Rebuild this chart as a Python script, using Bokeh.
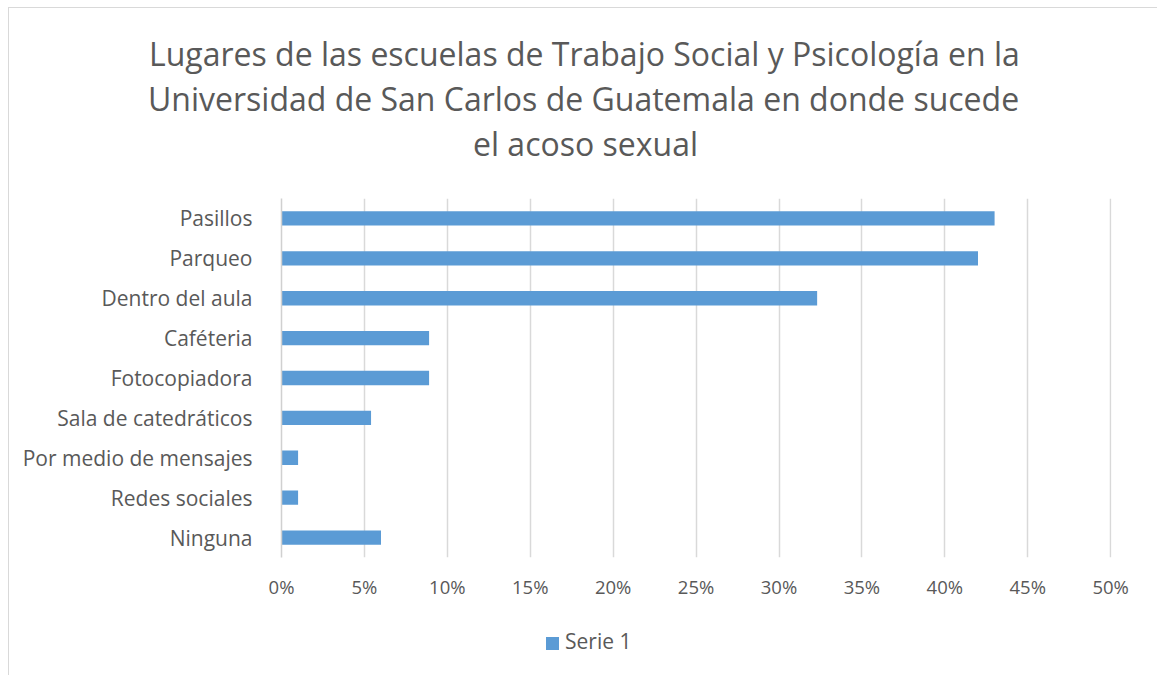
from bokeh.plotting import figure
from bokeh.models import (ColumnDataSource, FactorRange, Range1d, FixedTicker,
                          NumeralTickFormatter, Title, Div)
from bokeh.layouts import column
from bokeh.embed import file_html
from bokeh.resources import INLINE

# ---- data ----
categories = ["Pasillos", "Parqueo", "Dentro del aula", "Caféteria", "Fotocopiadora",
              "Sala de catedráticos", "Por medio de mensajes", "Redes sociales", "Ninguna"]
serie_1 = [0.430, 0.420, 0.323, 0.089, 0.089, 0.054, 0.010, 0.010, 0.060]
x_ticks = [0, 0.05, 0.10, 0.15, 0.20, 0.25, 0.30, 0.35, 0.40, 0.45, 0.50]
title_lines = ["Lugares de las escuelas de Trabajo Social y Psicología en la",
               "Universidad de San Carlos de Guatemala en donde sucede",
               "el acoso sexual"]
series_name = "Serie 1"

FONT = "Open Sans"
TXT = "#595959"
BAR = "#5B9BD5"
GRID = "#D9D9D9"
EDGE = "1px solid #D9D9D9"

src = ColumnDataSource(dict(cat=categories, val=serie_1))

p = figure(width=1149, height=613, output_backend="svg", toolbar_location=None,
           y_range=FactorRange(factors=list(reversed(categories))),
           x_range=Range1d(0, 0.5005),
           min_border_left=272, min_border_right=47, min_border_top=190,
           min_border_bottom=64)
p.margin = (7, 0, 0, 8)
p.styles = {"border-top": EDGE, "border-left": EDGE}
p.outline_line_color = None
p.background_fill_color = "white"
p.border_fill_color = "white"

r = p.hbar(y="cat", right="val", left=0, height=0.36, source=src,
           fill_color=BAR, line_color=None, legend_label=series_name)
p.legend.visible = False

p.xaxis.ticker = FixedTicker(ticks=x_ticks)
p.xaxis.formatter = NumeralTickFormatter(format="0%")
p.xaxis.axis_line_color = None
p.xaxis.major_tick_line_color = None
p.xaxis.minor_tick_line_color = None
p.xaxis.major_label_standoff = 10
p.xaxis.major_label_text_font = FONT
p.xaxis.major_label_text_font_size = "18.5px"
p.xaxis.major_label_text_color = TXT

p.yaxis.axis_line_color = "#D0D0D0"
p.yaxis.axis_line_width = 1.5
p.yaxis.major_tick_line_color = None
p.yaxis.minor_tick_line_color = None
p.yaxis.major_label_standoff = 23
p.yaxis.major_label_text_font = FONT
p.yaxis.major_label_text_font_size = "21px"
p.yaxis.major_label_text_color = TXT

p.xgrid.grid_line_color = GRID
p.xgrid.grid_line_width = 1.5
p.ygrid.grid_line_color = None

# gap between the title block and the plot area
p.add_layout(Title(text=" ", standoff=31, text_font_size="1px"), "above")

# title lines, left-aligned with offsets from frame left so that they centre on the chart
offsets = [-132.5, -133.5, 191.5]
for t, off in reversed(list(zip(title_lines, offsets))):
    p.add_layout(Title(text=t, align="left", offset=off, standoff=0,
                       text_font=FONT, text_font_size="32px",
                       text_font_style="normal", text_color=TXT), "above")

legend_html = (
    '<div style="padding-left:537px;padding-top:10px;white-space:nowrap;'
    f'font-family:\'{FONT}\';font-size:21px;color:{TXT};line-height:22px">'
    f'<span style="display:inline-block;width:13px;height:13px;background:{BAR};'
    'margin-right:6px;vertical-align:-1px"></span>'
    f'{series_name}</div>'
)
leg = Div(text=legend_html, width=1149, height=55, margin=(0, 0, 0, 8),
          styles={"border-left": EDGE})

layout = column(p, leg, spacing=0)
open("out.html", "w").write(file_html(layout, INLINE))
